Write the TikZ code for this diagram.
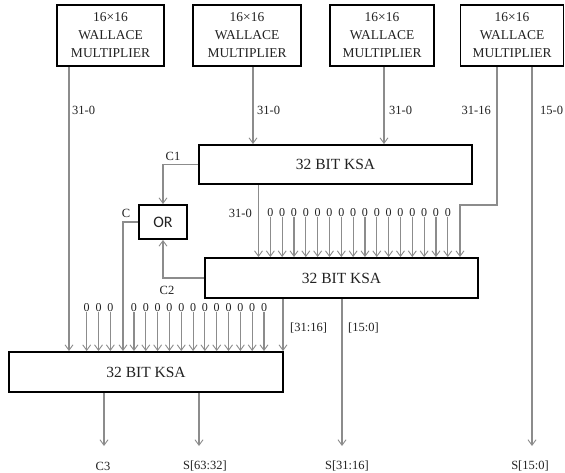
\documentclass[tikz,border=0pt]{standalone}
\usepackage{fontspec}
\setmainfont{Liberation Serif}
\newfontfamily\orfont{Carlito}
\usetikzlibrary{arrows.meta}
\definecolor{wirec}{HTML}{8C8C8C}
\definecolor{txt}{HTML}{222222}
\begin{document}
\begin{tikzpicture}[x=1pt,y=-1pt,
  blk/.style={draw=black,line width=1.9pt,fill=white,inner sep=0pt,align=center,text=txt},
  mult/.style={blk,minimum height=61pt,font=\fontsize{13.5}{18}\selectfont},
  ksa/.style={blk,minimum height=39pt,font=\fontsize{15.5}{18}\selectfont},
  wire/.style={draw=wirec,line width=1.1pt},
  arr/.style={wire,-{Straight Barb[length=5.5pt,width=8pt,line width=0.9pt]}},
  lab/.style={inner sep=0pt,text=txt,font=\fontsize{12.5}{14}\selectfont},
  zlab/.style={inner sep=0pt,text=txt,font=\fontsize{12}{13}\selectfont}]
\useasboundingbox (0,0) rectangle (565,473);
\fill[white] (0,0) rectangle (565,473);
% multipliers
\node[mult,minimum width=107pt] (m1) at (110.5,35.5) {16×16\\WALLACE\\MULTIPLIER};
\node[mult,minimum width=108pt] (m2) at (247,35.5) {16×16\\WALLACE\\MULTIPLIER};
\node[mult,minimum width=104pt] (m3) at (382,35.5) {16×16\\WALLACE\\MULTIPLIER};
\node[mult,minimum width=103pt] (m4) at (512,35.5) {16×16\\WALLACE\\MULTIPLIER};
% adders
\node[ksa,minimum width=273pt] (k1) at (335.5,164.5) {32 BIT KSA};
\node[ksa,minimum width=273pt,minimum height=40pt] (k2) at (341.5,278) {32 BIT KSA};
\node[ksa,minimum width=274pt,minimum height=40pt] (k3) at (146,372) {32 BIT KSA};
\node[blk,minimum width=48pt,minimum height=34pt,font=\orfont\fontsize{16}{17}\selectfont] (or) at (163,222) {OR};
% multiplier outputs
\draw[arr] (m1.south -| 69,0) -- (k3.north -| 69,0);
\node[lab,anchor=west] (l1) at (72,110) {31-0};
\draw[arr] (m2.south -| 253,0) -- (k1.north -| 253,0);
\node[lab,anchor=west] (l2) at (257,110) {31-0};
\draw[arr] (m3.south -| 384,0) -- (k1.north -| 384,0);
\node[lab,anchor=west] (l3) at (389,110) {31-0};
\coordinate (b1) at (497,205);
\coordinate (b2) at (460,205);
\draw[arr] (m4.south -| b1) -- (b1) -- (b2) -- (k2.north -| b2);
\node[lab,anchor=east] (l4) at (491,110) {31-16};
\coordinate (o4) at (532,446);
\draw[arr] (m4.south -| o4) -- (o4);
\node[lab,anchor=west] (l5) at (540,110) {15-0};
% KSA1 outputs
\draw[arr] (k1.west) -| (or.north);
\node[lab] (c1) at (173,156) {C1};
\draw[arr] (k1.south -| 258.5,0) -- (k2.north -| 258.5,0);
\node[lab,anchor=east] (l6) at (252,213) {31-0};
\foreach \k in {1,...,16} {
  \pgfmathsetmacro\xx{258.5+11.83*\k}
  \node[zlab] (z\k) at (\xx,213) {0};
  \draw[arr] (z\k.south) -- (k2.north -| z\k.south);
}
% OR and carries
\draw[arr] (k2.west) -| (or.south);
\node[lab] (c2) at (167,290) {C2};
\coordinate (cc) at (123,222);
\draw[arr] (or.west) -- (cc) -- (k3.north -| cc);
\node[lab] (c) at (126,213) {C};
% KSA2 outputs
\draw[arr] (k2.south -| 283,0) -- (k3.north -| 283,0);
\node[lab,anchor=west] (l7) at (290,328) {[31:16]};
\coordinate (o3) at (342,446);
\draw[arr] (k2.south -| o3) -- (o3);
\node[lab,anchor=west] (l8) at (348,328) {[15:0]};
% KSA3 zero inputs
\foreach \k in {0,1,2,4,5,6,7,8,9,10,11,12,13,14,15} {
  \pgfmathsetmacro\xx{86.7+11.82*\k}
  \node[zlab] (y\k) at (\xx,308) {0};
  \draw[arr] (y\k.south) -- (k3.north -| y\k.south);
}
% final outputs
\coordinate (o1) at (104,446);
\coordinate (o2) at (199,446);
\draw[arr] (k3.south -| o1) -- (o1);
\draw[arr] (k3.south -| o2) -- (o2);
\node[lab] (s1) at (103,466) {C3};
\node[lab] (s2) at (205,466) {S[63:32]};
\node[lab] (s3) at (347,466) {S[31:16]};
\node[lab] (s4) at (530,466) {S[15:0]};
\end{tikzpicture}
\end{document}
